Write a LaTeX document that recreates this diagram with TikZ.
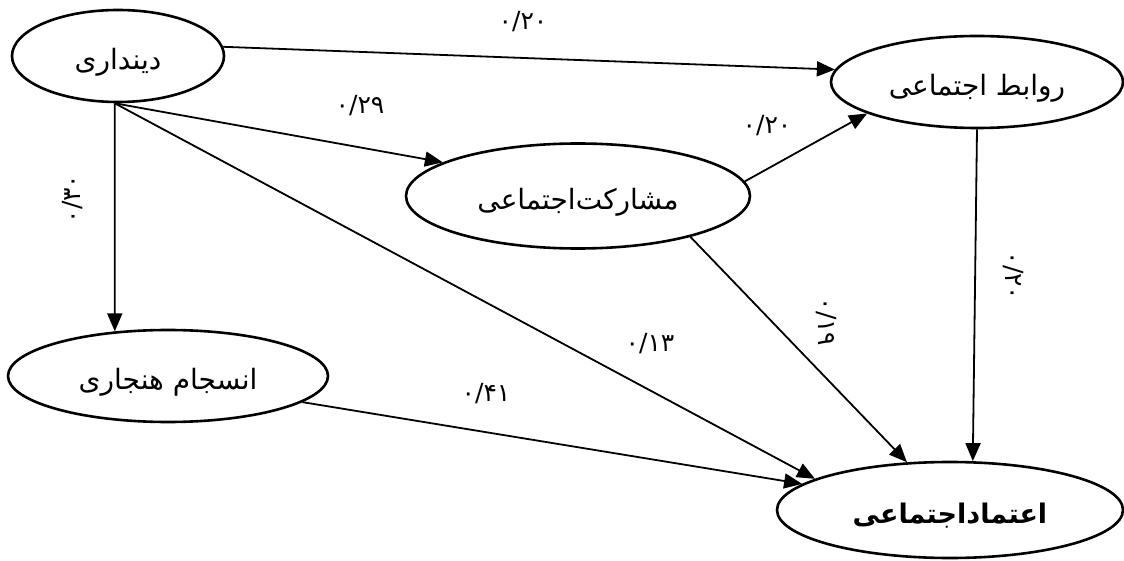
\documentclass[tikz,border=0pt]{standalone}
\usepackage{fontspec}
\usetikzlibrary{shapes.geometric,arrows.meta}
\newfontfamily\arabicfont[Script=Arabic]{DejaVu Sans}
\TeXXeTstate=1
\newcommand\lowrtl[1]{\raisebox{-6pt}[\height][\depth]{\beginR #1\endR}}
\begin{document}
\begin{tikzpicture}[x=1pt,y=-1pt,
  var/.style={draw, ellipse, line width=2.6pt, inner sep=0pt, font=\arabicfont\fontsize{28}{32}\selectfont},
  lab/.style={font=\arabicfont\fontsize{25}{28}\selectfont, inner sep=0pt},
  arr/.style={-{Triangle[length=18pt,width=15pt]}, line width=1.8pt}]
\useasboundingbox[fill=white] (0,0) rectangle (1124,561);
\node[var, minimum width=212pt, minimum height=92pt] (d) at (118,56) {\lowrtl{دینداری}};
\node[var, minimum width=292pt, minimum height=92pt] (r) at (977,82) {\lowrtl{روابط اجتماعی}};
\node[var, minimum width=344pt, minimum height=105pt] (m) at (578,196) {\lowrtl{مشارکت‌اجتماعی}};
\node[var, minimum width=320pt, minimum height=92pt] (n) at (168,376) {\lowrtl{انسجام هنجاری}};
\node[var, minimum width=346pt, minimum height=96pt, font=\arabicfont\bfseries\fontsize{27}{30}\selectfont] (e) at (950,510) {\lowrtl{اعتماداجتماعی}};

\draw[arr] (d.5) -- (r.175);
\draw[arr] (d.266) -- (m.166);
\draw[arr] (d.266) -- (n.140.7);
\draw[arr] (d.266) -- (e.167);
\draw[arr] (n.349) -- (e.170);
\draw[arr] (m.5) -- (r.196);
\draw[arr] (m.340) -- (e.132);
\draw[arr] (r.south) -- (e.65);

\node[lab] (l1) at (523,22) {۰/۲۰};
\node[lab] (l2) at (360,106) {۰/۲۹};
\node[lab] (l3) at (767,126) {۰/۲۰};
\node[lab, rotate=90] (l4) at (73,199) {۰/۳۰};
\node[lab] (l5) at (650,344) {۰/۱۳};
\node[lab, rotate=-90] (l6) at (826,322) {۰/۱۹};
\node[lab] (l7) at (486,394) {۰/۴۱};
\node[lab, rotate=-90] (l8) at (1013,276) {۰/۲۰};
\end{tikzpicture}
\end{document}
